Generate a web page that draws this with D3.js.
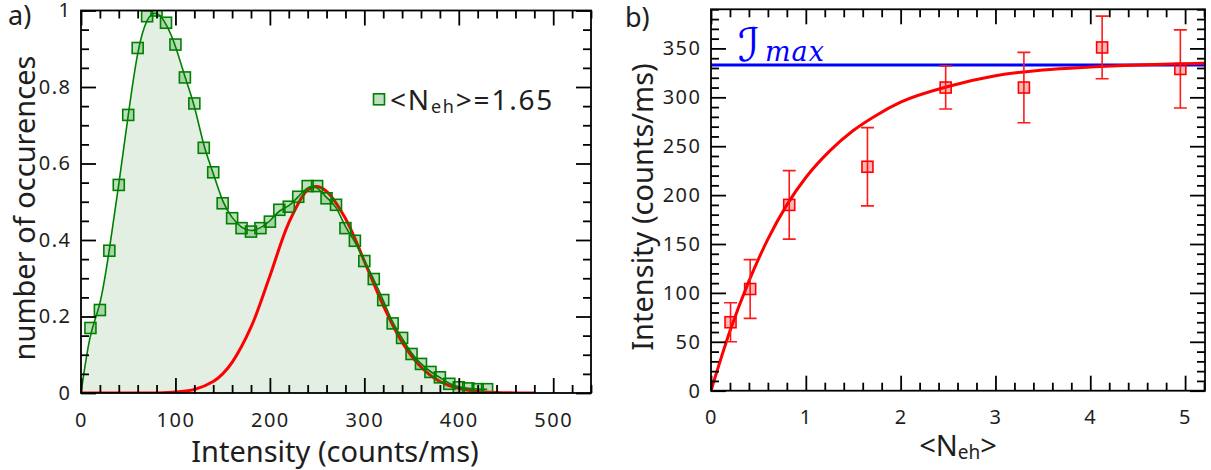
<!DOCTYPE html>
<html><head><meta charset="utf-8">
<script src="https://cdn.jsdelivr.net/npm/d3@7"></script>
<style>
body{margin:0;background:#fff;}
svg text{font-family:"Noto Sans",sans-serif;fill:#1e1e1e;}
.tick text{font-size:20px;letter-spacing:1.5px;}
.tick line{stroke:#000;stroke-width:1.8;}
</style></head><body>
<svg id="chart" width="1211" height="470"></svg>
<script>
// ---------- Panel a) data ----------
const histIntensity = [10,20,30,40,50,60,70,80,90,100,110,120,130,140,150,160,170,180,190,200,210,220,230,240,250,260,270,280,290,300,310,320,330,340,350,360,370,380,390,400,410,420,430];
const histOccurrence = [0.170,0.217,0.372,0.544,0.727,0.902,0.985,1.000,0.968,0.911,0.825,0.757,0.641,0.577,0.496,0.457,0.431,0.422,0.431,0.448,0.479,0.487,0.513,0.541,0.541,0.509,0.492,0.431,0.398,0.345,0.298,0.243,0.182,0.144,0.102,0.076,0.055,0.041,0.024,0.015,0.012,0.010,0.010];
const fitIntensityA = [0,20,40,60,80,100,120,140,150,160,180,200,220,240,250,260,280,300,320,340,360,380,400,420,440,460,480];
const fitOccurrenceA = [0,0,0,0,0.0002,0.0024,0.009,0.030,0.050,0.080,0.172,0.306,0.445,0.531,0.540,0.527,0.456,0.345,0.229,0.133,0.068,0.030,0.012,0.004,0.001,0.0003,0];
const legendValue = "1.65";
const xTicksA = [0,100,200,300,400,500];
const yTicksA = [0,0.2,0.4,0.6,0.8,1];
const yTickLabelsA = ["0","0.2","0.4","0.6","0.8","1"];

// ---------- Panel b) data ----------
const nEh = [0.206,0.413,0.825,1.65,2.475,3.30,4.125,4.95];
const intensityB = [70,104,190,229,310,310,351,329];
const errorB = [20,30,35,40,22,36,32,40];
const fitN = [0,0.2,0.4,0.6,0.8,1.0,1.25,1.5,1.75,2.0,2.5,3.0,3.5,4.0,4.5,5.0,5.2];
const fitIntensityB = [0,61,112,155,190,218,245,266,282,295,311,322,328,331,333,334.3,334.8];
const iMax = 333;
const xTicksB = [0,1,2,3,4,5];
const yTicksB = [0,50,100,150,200,250,300,350];

const svg = d3.select("#chart");
const defs = svg.append("defs");

function drawAxes(g, x, y, o){
  const [x0,x1] = x.range(), [y0,y1] = y.range();
  const add = (gen, tr) => {
    const a = g.append("g").attr("transform", tr).call(gen);
    a.select(".domain").remove();
    a.attr("font-family", null).attr("font-size", null);
    return a;
  };
  add(d3.axisBottom(x).tickValues(o.xMajor).tickSize(-15).tickPadding(o.xPad).tickFormat(o.xFmt), `translate(0,${y0})`);
  add(d3.axisBottom(x).tickValues(o.xMinor).tickSize(-8).tickFormat(""), `translate(0,${y0})`);
  add(d3.axisTop(x).tickValues(o.xMajor).tickSize(-15).tickFormat(""), `translate(0,${y1})`);
  add(d3.axisTop(x).tickValues(o.xMinor).tickSize(-8).tickFormat(""), `translate(0,${y1})`);
  add(d3.axisLeft(y).tickValues(o.yMajor).tickSize(-15).tickPadding(o.yPad).tickFormat(o.yFmt), `translate(${x0},0)`);
  add(d3.axisLeft(y).tickValues(o.yMinor).tickSize(-8).tickFormat(""), `translate(${x0},0)`);
  add(d3.axisRight(y).tickValues(o.yMajor).tickSize(-15).tickFormat(""), `translate(${x1},0)`);
  add(d3.axisRight(y).tickValues(o.yMinor).tickSize(-8).tickFormat(""), `translate(${x1},0)`);
  g.append("rect").attr("x", x0).attr("y", y1).attr("width", x1-x0).attr("height", y0-y1)
    .attr("fill","none").attr("stroke","#000").attr("stroke-width",1.8);
}

// ================= Panel a =================
const xa = d3.scaleLinear().domain([0,540]).range([81,591]);
const ya = d3.scaleLinear().domain([0,1]).range([393,10.5]);
defs.append("clipPath").attr("id","clipA").append("rect")
  .attr("x",81).attr("y",10.5).attr("width",510).attr("height",382.5);
const ga = svg.append("g");
const pa = ga.append("g").attr("clip-path","url(#clipA)");

const histPts = [[0,0]].concat(histIntensity.map((v,i)=>[v,histOccurrence[i]]));
pa.append("path").datum(histPts)
  .attr("d", d3.area().x(d=>xa(d[0])).y0(ya(0)).y1(d=>ya(d[1])).curve(d3.curveBasis))
  .attr("fill","#e2efe2");
const fitPtsA = fitIntensityA.map((v,i)=>[v,fitOccurrenceA[i]]);
pa.append("path").datum(fitPtsA)
  .attr("d", d3.line().x(d=>xa(d[0])).y(d=>ya(d[1])).curve(d3.curveCatmullRom))
  .attr("fill","none").attr("stroke","#ff0000").attr("stroke-width",3);
pa.append("path").datum(histPts)
  .attr("d", d3.line().x(d=>xa(d[0])).y(d=>ya(d[1])).curve(d3.curveBasis))
  .attr("fill","none").attr("stroke","#008000").attr("stroke-width",1.6);
pa.selectAll("rect.pt").data(histIntensity).join("rect").attr("class","pt")
  .attr("x", d=>xa(d)-5.5).attr("y", (d,i)=>ya(histOccurrence[i])-5.5)
  .attr("width",11).attr("height",11)
  .attr("fill","rgba(0,128,0,0.25)").attr("stroke","#008000").attr("stroke-width",1.6);

drawAxes(ga, xa, ya, {
  xMajor: xTicksA, xMinor: d3.range(0,541,20).filter(v=>v%100!==0), xPad: 20, xFmt: d=>String(d),
  yMajor: yTicksA, yMinor: d3.range(0,21).map(i=>i*0.05).filter((v,i)=>i%4!==0), yPad: 9.5,
  yFmt: (d,i)=>yTickLabelsA[i]
});

// legend
ga.append("rect").attr("x",373.5).attr("y",93.8).attr("width",11).attr("height",11)
  .attr("fill","rgba(0,128,0,0.25)").attr("stroke","#008000").attr("stroke-width",1.6);
const lt = ga.append("text").attr("x",390).attr("y",110).attr("font-size",28).attr("letter-spacing","1.8px");
lt.append("tspan").text("<N");
lt.append("tspan").attr("font-size",18).attr("dy",3.4).text("eh");
lt.append("tspan").attr("dy",-3.4).text(">=" + legendValue);

ga.append("text").attr("x",8).attr("y",25).attr("font-size",27).text("a)");
ga.append("text").attr("transform","translate(34.5,208) rotate(-90)").attr("text-anchor","middle")
  .attr("font-size",29).text("number of occurences");
ga.append("text").attr("x",335).attr("y",461.5).attr("text-anchor","middle")
  .attr("font-size",29).text("Intensity (counts/ms)");

// ================= Panel b =================
const xb = d3.scaleLinear().domain([0,5.21]).range([711,1205]);
const yb = d3.scaleLinear().domain([0,390]).range([390.7,9.3]);
defs.append("clipPath").attr("id","clipB").append("rect")
  .attr("x",711).attr("y",9.3).attr("width",494).attr("height",381.4);
const gb = svg.append("g");
const pb = gb.append("g").attr("clip-path","url(#clipB)");

pb.append("line").attr("x1",xb(0)).attr("x2",xb(5.21)).attr("y1",yb(iMax)).attr("y2",yb(iMax))
  .attr("stroke","#0000ff").attr("stroke-width",3);
const fitPtsB = fitN.map((v,i)=>[v,fitIntensityB[i]]);
pb.append("path").datum(fitPtsB)
  .attr("d", d3.line().x(d=>xb(d[0])).y(d=>yb(d[1])).curve(d3.curveMonotoneX))
  .attr("fill","none").attr("stroke","#ff0000").attr("stroke-width",3);

const eb = pb.selectAll("g.err").data(nEh).join("g").attr("class","err")
  .attr("stroke","#ff1a1a").attr("stroke-width",1.6);
eb.append("line").attr("x1",d=>xb(d)).attr("x2",d=>xb(d))
  .attr("y1",(d,i)=>yb(intensityB[i]-errorB[i])).attr("y2",(d,i)=>yb(intensityB[i]+errorB[i]));
eb.append("line").attr("x1",d=>xb(d)-6.5).attr("x2",d=>xb(d)+6.5)
  .attr("y1",(d,i)=>yb(intensityB[i]-errorB[i])).attr("y2",(d,i)=>yb(intensityB[i]-errorB[i]));
eb.append("line").attr("x1",d=>xb(d)-6.5).attr("x2",d=>xb(d)+6.5)
  .attr("y1",(d,i)=>yb(intensityB[i]+errorB[i])).attr("y2",(d,i)=>yb(intensityB[i]+errorB[i]));
pb.selectAll("rect.pt").data(nEh).join("rect").attr("class","pt")
  .attr("x", d=>xb(d)-5.5).attr("y",(d,i)=>yb(intensityB[i])-5.5)
  .attr("width",11).attr("height",11)
  .attr("fill","rgba(255,0,0,0.28)").attr("stroke","#ff0000").attr("stroke-width",1.6);

drawAxes(gb, xb, yb, {
  xMajor: xTicksB, xMinor: d3.range(0,27).map(i=>i*0.2).filter((v,i)=>i%5!==0), xPad: 19.5, xFmt: d=>String(d),
  yMajor: yTicksB, yMinor: d3.range(0,391,10).filter(v=>v%50!==0), yPad: 9.5, yFmt: d=>String(d)
});

// I_max label
const im = gb.append("text").attr("x",738).attr("y",61).attr("fill","#0000ff");
im.append("tspan").attr("font-family","DejaVu Serif, DejaVu Sans, serif").attr("font-style","italic")
  .attr("font-size",46).attr("fill","#0000ff").text("\u2110");
im.append("tspan").attr("x",765).attr("font-family","DejaVu Serif, serif").attr("font-style","italic")
  .attr("font-size",27).attr("letter-spacing","1px").attr("fill","#0000ff").text("max");

gb.append("text").attr("x",625).attr("y",26.5).attr("font-size",27).text("b)");
gb.append("text").attr("transform","translate(653,207) rotate(-90)").attr("text-anchor","middle")
  .attr("font-size",29).text("Intensity (counts/ms)");
const xl = gb.append("text").attr("x",958).attr("y",456).attr("text-anchor","middle").attr("font-size",29);
xl.append("tspan").text("<N");
xl.append("tspan").attr("font-size",19).attr("dy",3).text("eh");
xl.append("tspan").attr("dy",-3).text(">");
</script>
</body></html>
